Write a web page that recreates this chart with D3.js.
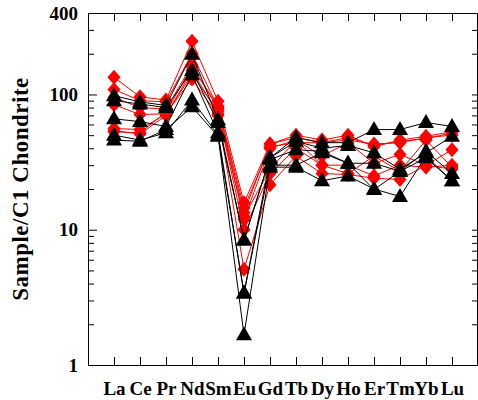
<!DOCTYPE html>
<html>
<head>
<meta charset="utf-8">
<script src="https://cdn.jsdelivr.net/npm/d3@7"></script>
<style>
  body { margin: 0; background: #fff; }
  text { font-family: "Liberation Serif", "Times New Roman", serif; font-weight: bold; }
</style>
</head>
<body>
<div id="chart"></div>
<script>
// REE elements, chondrite normalised
var elements = ["La", "Ce", "Pr", "Nd", "Sm", "Eu", "Gd", "Tb", "Dy", "Ho", "Er", "Tm", "Yb", "Lu"];

// red diamond samples
var red1 = [134, 96, 91, 247, 89, 15.8, 43, 50, 46, 50, 41, 46, 49, 53];
var red2 = [109, 90, 88, 200, 80, 13.4, 43, 48, 44, 46, 43, 44, 48, 50];
var red3 = [95, 80, 78, 165, 78, 11.9, 40, 46, 35, 44, 31, 36, 30, 39];
var red4 = [84, 71, 72, 140, 75, 10, 26, 40, 30, 30, 25, 30, 29, 30];
var red5 = [56, 55, 72, 130, 70, 5.1, 21.5, 35, 26, 25.6, 24, 23.5, 30, 28];
var red6 = [54, 51, 70, 150, 72, 12.5, 28, 46, 30, 26, 35, 27, 46, 29];
var red7 = [53, 52, 74, 160, 82, 14.5, 41, 44, 44, 48, 42, 45, 47, 52];

// black triangle samples
var black1 = [98, 88, 83, 198, 65, 8.4, 34, 48, 44, 44, 55, 55, 62, 58];
var black2 = [90, 85, 80, 150, 62, 8.4, 34, 45, 40, 42, 37, 28, 37, 49];
var black3 = [66, 63, 58, 140, 52, 3.4, 33, 39, 38, 31, 31, 27, 38, 26];
var black4 = [50, 46, 52, 91, 50, 1.67, 29, 29, 23, 25, 20, 17.6, 35, 23];
var black5 = [46, 45, 55, 81, 49, 3.4, 30, 30, 37, 31, 19.8, 27, 34, 23];

var yMajor = [1, 10, 100, 400];
var yMinor = [2, 3, 4, 5, 6, 7, 8, 9, 20, 30, 40, 50, 60, 70, 80, 90, 200, 300];

(function(){
    var W = 478, H = 400;
    var left = 88, top = 13, right = 478, bottom = 365;

    var svg = d3.select("#chart").append("svg")
        .attr("width", W).attr("height", H);

    var x = d3.scaleLinear().domain([0, 15]).range([left, right]);
    var y = d3.scaleLog().domain([1, 400]).range([bottom, top]);
    var xi = function(d, i) { return x(i + 1); };

    // axes
    svg.append("g").attr("transform", "translate(" + left + ",0)")
        .call(d3.axisLeft(y).tickValues(yMajor).tickFormat(d3.format("d"))
            .tickSize(-9).tickSizeOuter(0).tickPadding(10))
        .call(function(g) { g.selectAll("text").style("font-size", "19px").attr("fill", "#000"); });
    svg.append("g").attr("transform", "translate(" + left + ",0)")
        .call(d3.axisLeft(y).tickValues(yMinor).tickFormat("").tickSize(-6).tickSizeOuter(0));
    svg.append("g").attr("transform", "translate(" + right + ",0)")
        .call(d3.axisRight(y).tickValues(yMajor.concat(yMinor)).tickFormat("").tickSize(-6).tickSizeOuter(0));

    var xb = d3.axisBottom(x).tickValues(d3.range(1, 15))
        .tickFormat(function(d) { return elements[d - 1]; })
        .tickSize(-8).tickSizeOuter(0).tickPadding(17);
    svg.append("g").attr("transform", "translate(0," + bottom + ")").call(xb)
        .call(function(g) { g.selectAll("text").style("font-size", "19px").attr("fill", "#000"); });
    svg.append("g").attr("transform", "translate(0," + top + ")")
        .call(d3.axisTop(x).tickValues(d3.range(1, 15)).tickFormat("").tickSize(-8).tickSizeOuter(0));

    svg.selectAll(".domain").remove();
    svg.selectAll(".tick line").attr("stroke", "#000");

    svg.append("rect")
        .attr("x", left + 0.5).attr("y", top + 0.5)
        .attr("width", right - left - 1).attr("height", bottom - top)
        .attr("fill", "none").attr("stroke", "#000");

    // y label
    svg.append("text")
        .attr("transform", "translate(28," + ((top + bottom) / 2) + ") rotate(-90)")
        .attr("text-anchor", "middle")
        .style("font-size", "23px")
        .style("letter-spacing", "0.5px")
        .text("Sample/C1 Chondrite");

    var line = d3.line().x(xi).y(function(d) { return y(d); });
    var diamond = "M0,-7.5L6.5,0L0,7.5L-6.5,0Z";
    var triangle = "M0,-8.5L8,5.5L-8,5.5Z";

    function drawSeries(data, color, shape) {
        svg.append("path").datum(data)
            .attr("d", line).attr("fill", "none")
            .attr("stroke", color).attr("stroke-width", 1);
        svg.selectAll(null).data(data).enter().append("path")
            .attr("d", shape)
            .attr("transform", function(d, i) { return "translate(" + xi(d, i) + "," + y(d) + ")"; })
            .attr("fill", color);
    }

    [red1, red2, red3, red4, red5, red6, red7].forEach(function(s) { drawSeries(s, "#ff0000", diamond); });
    [black1, black2, black3, black4, black5].forEach(function(s) { drawSeries(s, "#000000", triangle); });
})();
</script>
</body>
</html>
